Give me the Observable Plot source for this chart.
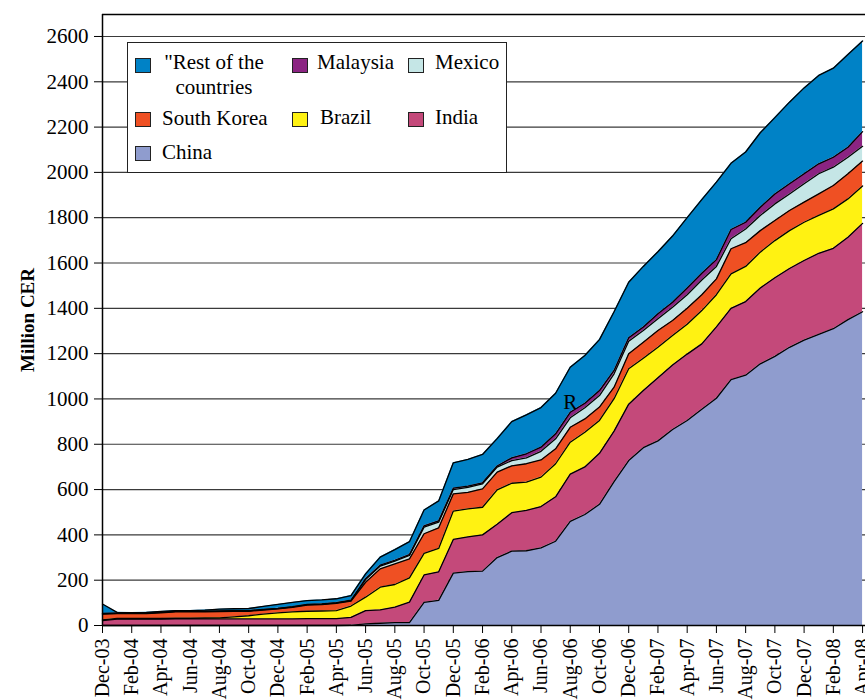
<!DOCTYPE html>
<html><head><meta charset="utf-8">
<script src="https://cdn.jsdelivr.net/npm/d3@7"></script>
<script src="https://cdn.jsdelivr.net/npm/@observablehq/plot@0.6"></script>
<style>
body{margin:0;background:#fff;}
#chart{position:relative;width:865px;height:700px;overflow:hidden;font-family:"Liberation Serif","Times New Roman",serif;}
#chart svg{position:absolute;left:0;top:0;}
.lgbox{position:absolute;border:1.5px solid #222;background:#fff;box-sizing:border-box;}
.lgtext{position:absolute;font-size:21px;line-height:25px;color:#000;white-space:nowrap;}
.lgsw{position:absolute;width:16px;height:15px;border:1px solid #222;box-sizing:border-box;}
g[aria-label="y-axis label"] text{font-weight:bold;font-size:19px;}
g[aria-label="x-axis tick label"] text{font-size:20px;}
</style></head><body><div id="chart"></div><script>
// Month labels (Dec-03 .. Apr-08)
const months = ["Dec-03","Jan-04","Feb-04","Mar-04","Apr-04","May-04","Jun-04","Jul-04","Aug-04","Sep-04","Oct-04","Nov-04",
"Dec-04","Jan-05","Feb-05","Mar-05","Apr-05","May-05","Jun-05","Jul-05","Aug-05","Sep-05","Oct-05","Nov-05",
"Dec-05","Jan-06","Feb-06","Mar-06","Apr-06","May-06","Jun-06","Jul-06","Aug-06","Sep-06","Oct-06","Nov-06",
"Dec-06","Jan-07","Feb-07","Mar-07","Apr-07","May-07","Jun-07","Jul-07","Aug-07","Sep-07","Oct-07","Nov-07",
"Dec-07","Jan-08","Feb-08","Mar-08","Apr-08"];

// Series values (Million CER), one per month
const china = [0,0,0,0,0,0,0,0,0,0,0,0, 0,0,0,0,0,1,7,10,13,13,102,111,
 231,238,240,300,328,330,343,372,460,490,535,635, 728,785,815,865,905,955,1003,1085,1105,1155,1188,1228,
 1260,1285,1310,1350,1385];
const india = [22,28,28,28,28,29,29,29,29,29,29,29, 29,29,30,30,30,35,59,59,68,90,121,126,
 149,153,160,147,170,178,182,196,208,210,225,223, 249,252,279,285,293,288,315,315,325,335,347,348,
 351,358,355,364,390];
const brazil = [3,3,3,3,3,3,3,4,5,9,14,21, 27,31,33,34,36,50,59,100,100,107,95,103,
 125,124,122,152,130,125,130,146,141,153,145,143, 156,143,134,130,132,147,142,152,155,158,164,167,
 169,167,174,169,165];
const southKorea = [25,21,21,22,25,28,28,27,27,24,20,18, 17,20,27,28,32,22,66,81,91,84,87,91,
 76,73,81,78,77,81,76,66,66,59,59,51, 67,70,74,66,70,70,70,111,105,95,89,89,
 89,95,103,111,110];
const mexico = [2,2,2,2,2,2,2,2,2,2,2,2, 2,2,2,2,2,2,12,12,12,15,29,25,
 19,22,22,22,23,26,38,44,42,49,51,59, 55,52,52,59,60,65,55,44,60,67,73,73,
 81,89,81,73,65];
const malaysia = [1,1,1,1,1,1,1,1,1,1,1,1, 1,1,1,1,1,2,4,4,4,4,6,6,
 6,5,5,5,12,18,18,22,24,20,22,15, 15,16,22,22,30,30,30,41,30,36,44,45,
 44,44,44,44,65];
const rest = [42,3,2,2,3,3,3,5,8,9,9,13, 17,19,17,18,17,20,21,36,47,57,70,88,
 112,118,125,121,160,172,175,179,199,211,225,259, 245,267,274,292,310,325,342,292,310,329,337,360,
 379,390,393,409,400];

const seriesNames = ["Rest of the countries","Malaysia","Mexico","South Korea","Brazil","India","China"];
const seriesColors = ["#0082C6","#8B2482","#C5E6E6","#EF5023","#FFF212","#C4497A","#8F9CCE"];
const stackOrder = ["China","India","Brazil","South Korea","Mexico","Malaysia","Rest of the countries"];
const yTicks = [0,200,400,600,800,1000,1200,1400,1600,1800,2000,2200,2400,2600];
const xTicks = d3.range(0, months.length, 2);
const annotations = [{label: "R", month: "Aug-06", value: 985}];
const yTop = 2697;

const seriesValues = {
  "China": china, "India": india, "Brazil": brazil, "South Korea": southKorea,
  "Mexico": mexico, "Malaysia": malaysia, "Rest of the countries": rest
};
const rows = [];
for (const s of stackOrder) seriesValues[s].forEach((v, i) => rows.push({month: i, series: s, value: v}));

const chart = Plot.plot({
  width: 865, height: 700,
  marginLeft: 102, marginRight: 0, marginTop: 14, marginBottom: 75,
  style: {fontFamily: '"Liberation Serif","Times New Roman",serif', fontSize: "21px", background: "transparent", overflow: "visible"},
  x: {domain: [0, 52.2]},
  y: {domain: [0, yTop]},
  color: {domain: seriesNames, range: seriesColors},
  marks: [
    Plot.gridY(yTicks, {stroke: "#3a3a3a", strokeOpacity: 1, strokeWidth: 1.2}),
    Plot.areaY(rows, {x: "month", y: "value", z: "series", fill: "series", order: stackOrder}),
    Plot.lineY(rows, Plot.stackY2({x: "month", y: "value", z: "series", order: stackOrder, stroke: "black", strokeWidth: 1.3})),
    Plot.text(annotations, {x: d => months.indexOf(d.month), y: "value", text: "label", fontSize: 21}),
    Plot.ruleY([0], {stroke: "black", strokeWidth: 1.5}),
    Plot.ruleY([yTop], {stroke: "black", strokeWidth: 1.5}),
    Plot.ruleX([0], {stroke: "black", strokeWidth: 1.5}),
    Plot.axisY({ticks: yTicks, tickFormat: d3.format("d"), tickSize: 8, tickPadding: 6, label: "Million CER", labelAnchor: "center", labelOffset: 82, labelArrow: "none"}),
    Plot.axisX({ticks: xTicks, tickFormat: i => months[i], tickRotate: -90, tickSize: 8, tickPadding: 5, label: null})
  ]
});
const root = document.getElementById("chart");
root.appendChild(chart);

// Legend (inside plot area)
const box = document.createElement("div");
box.className = "lgbox";
Object.assign(box.style, {left: "127px", top: "42px", width: "380px", height: "131px"});
root.appendChild(box);
const legendLayout = [
  {sw: [135, 58], tx: [158, 50], w: 112, center: true, label: "\"Rest of the<br>countries"},
  {sw: [292, 58], tx: [317, 50]},
  {sw: [408, 58], tx: [435, 50]},
  {sw: [135, 112], tx: [162, 106]},
  {sw: [292, 112], tx: [320, 105]},
  {sw: [408, 112], tx: [435, 105]},
  {sw: [135, 146], tx: [162, 140]}
];
seriesNames.forEach((name, k) => {
  const L = legendLayout[k];
  const sw = document.createElement("div");
  sw.className = "lgsw";
  Object.assign(sw.style, {left: L.sw[0] + "px", top: L.sw[1] + "px", background: seriesColors[k]});
  root.appendChild(sw);
  const t = document.createElement("div");
  t.className = "lgtext";
  Object.assign(t.style, {left: L.tx[0] + "px", top: L.tx[1] + "px"});
  if (L.center) { t.style.width = L.w + "px"; t.style.textAlign = "center"; t.innerHTML = L.label; }
  else t.textContent = name;
  root.appendChild(t);
});
</script></body></html>
